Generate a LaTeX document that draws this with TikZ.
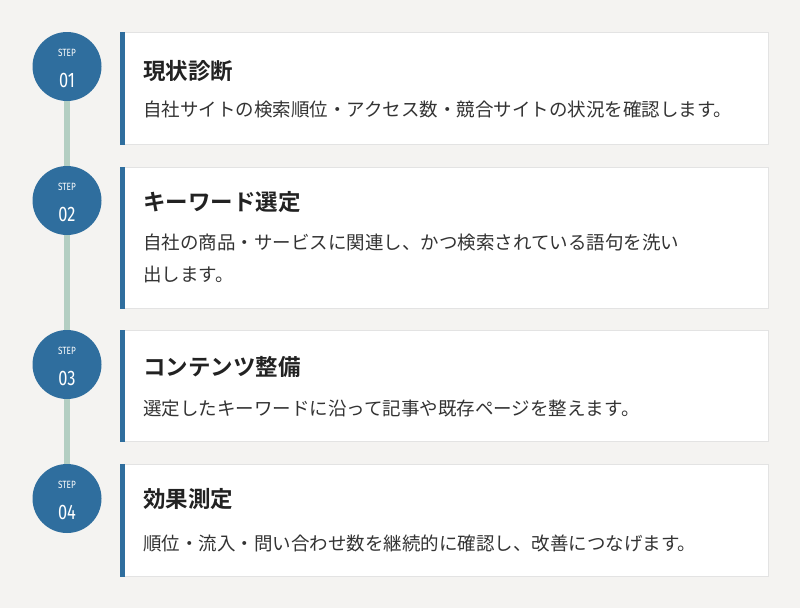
\documentclass[tikz,border=0pt]{standalone}
\usepackage{fontspec}
\setmainfont{Noto Sans CJK JP}
\newfontfamily\condfont{Fira Sans}[FakeStretch=0.78]
\newfontfamily\bodyfont{Noto Sans CJK JP}
\newfontfamily\titlefont{Noto Sans CJK JP Bold}
\usetikzlibrary{calc}
\definecolor{bgc}{HTML}{F4F3F1}
\definecolor{stepblue}{HTML}{2F6E9E}
\definecolor{linec}{HTML}{B3CEC2}
\definecolor{borderc}{HTML}{E3E3E3}
\definecolor{txt}{HTML}{333333}
\definecolor{ttl}{HTML}{222222}
\tikzset{
  stepcircle/.style={circle, fill=stepblue, minimum size=69pt, inner sep=0pt},
  steplabel/.style={text=white, font=\condfont\fontsize{10.5}{11}\selectfont, inner sep=0pt},
  stepnum/.style={text=white, font=\condfont\fontsize{21}{22}\selectfont, inner sep=0pt},
  card/.style={rectangle, draw=borderc, line width=0.8pt, fill=white, anchor=north west, minimum width=648pt, inner sep=0pt},
  cardtitle/.style={anchor=west, text=ttl, font=\titlefont\fontsize{22.5}{26}\selectfont, inner sep=0pt},
  cardbody/.style={anchor=west, text=txt, font=\bodyfont\fontsize{18.5}{32}\selectfont, inner sep=0pt, align=left},
  timeline/.style={draw=linec, line width=5.5pt}
}
\begin{document}
\begin{tikzpicture}[x=1pt,y=-1pt]
\fill[bgc] (0,0) rectangle (800,608);
\useasboundingbox (0,0) rectangle (800,608);
% timeline
\coordinate (p1) at (67,66.5);
\coordinate (p2) at (67,200.5);
\coordinate (p3) at (67,364.5);
\coordinate (p4) at (67,498.5);
\draw[timeline] (p1) -- (p2);
\draw[timeline] (p2) -- (p3);
\draw[timeline] (p3) -- (p4);
% cards
\node[card, minimum height=112pt] (k1) at (120,32) {};
\node[card, minimum height=141pt] (k2) at (120,167) {};
\node[card, minimum height=111pt] (k3) at (120,330) {};
\node[card, minimum height=112pt] (k4) at (120,464) {};
\foreach \k in {k1,k2,k3,k4}{
  \fill[stepblue] (\k.north west) rectangle ($(\k.south west)+(5,0)$);
}
% circles
\foreach \i/\n in {1/01,2/02,3/03,4/04}{
  \node[stepcircle] (c\i) at (p\i) {};
  \node[steplabel] (s\i) at ($(c\i.center)+(0,-13.5)$) {STEP};
  \node[stepnum] (n\i) at ($(c\i.center)+(0,13.5)$) {\n};
}
% texts
\node[cardtitle] (t1) at (143,71.5) {現状診断};
\node[cardbody] (b1) at (143,109) {自社サイトの検索順位・アクセス数・競合サイトの状況を確認します。};
\node[cardtitle] (t2) at (143,202.5) {キーワード選定};
\node[cardbody, anchor=north west] (b2) at (143,234) {自社の商品・サービスに関連し、かつ検索されている語句を洗い\\出します。};
\node[cardtitle] (t3) at (143,366.5) {コンテンツ整備};
\node[cardbody] (b3) at (143,409) {選定したキーワードに沿って記事や既存ページを整えます。};
\node[cardtitle] (t4) at (143,499.5) {効果測定};
\node[cardbody] (b4) at (143,543) {順位・流入・問い合わせ数を継続的に確認し、改善につなげます。};
\end{tikzpicture}
\end{document}
